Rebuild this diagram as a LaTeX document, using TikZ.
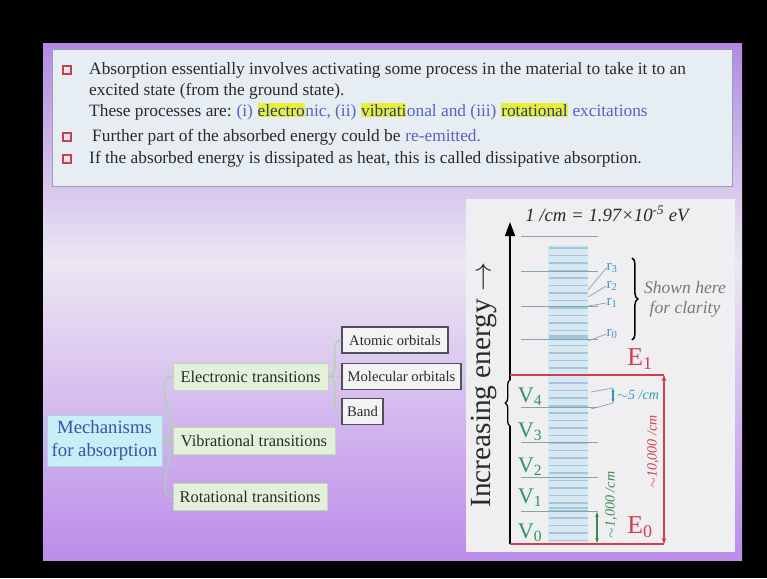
\documentclass[tikz,border=0pt]{standalone}
\usepackage{fontspec}
\setmainfont{Liberation Serif}
\usepackage{xcolor}
\usetikzlibrary{positioning,calc,arrows.meta,decorations.pathreplacing}

\definecolor{slidetop}{HTML}{B08AE2}
\definecolor{slidemid}{HTML}{ECE7F2}
\definecolor{slidebot}{HTML}{BC8CEA}
\definecolor{boxfill}{HTML}{E6EDF3}
\definecolor{boxline}{HTML}{9C9CB4}
\definecolor{bodygray}{HTML}{2A2A2A}
\definecolor{bluetxt}{HTML}{5662C6}
\definecolor{hlyellow}{HTML}{E6F03A}
\definecolor{bulletred}{HTML}{C8404E}
\definecolor{bulletfill}{HTML}{F4E4EA}
\definecolor{rootfill}{HTML}{C8EEF8}
\definecolor{rootline}{HTML}{A6D6EA}
\definecolor{roottext}{HTML}{2F56A8}
\definecolor{lvlfill}{HTML}{E3F1DA}
\definecolor{lvlline}{HTML}{BCD9B4}
\definecolor{leaffill}{HTML}{F3F3F5}
\definecolor{leafline}{HTML}{505058}
\definecolor{linkgreen}{HTML}{A6D8A6}
\definecolor{panelfill}{HTML}{EFEFF2}
\definecolor{bandfill}{HTML}{D8E8F2}
\definecolor{shortline}{HTML}{A2C6DA}
\definecolor{longline}{HTML}{86A4AC}
\definecolor{rblue}{HTML}{3A98CE}
\definecolor{vgreen}{HTML}{2F9462}
\definecolor{ered}{HTML}{D23E4C}
\definecolor{fiveteal}{HTML}{2A9CC4}
\definecolor{kgreen}{HTML}{3A8A52}
\definecolor{cleargray}{HTML}{787878}

\tikzset{
  bulletbox/.style={draw=bulletred, fill=bulletfill, line width=0.9pt, minimum size=0.24cm, inner sep=0pt},
  bodytext/.style={anchor=base west, inner sep=0pt, text=bodygray, font=\fontsize{14.8}{17}\selectfont},
  bluetext/.style={bodytext, text=bluetxt},
  hltext/.style={bodytext, fill=hlyellow, inner ysep=1pt, text=bluetxt!60!black},
  rootbox/.style={draw=rootline, fill=rootfill, text=roottext, align=center, inner sep=2pt,
    minimum width=3.45cm, minimum height=1.53cm, font=\fontsize{16}{19.5}\selectfont},
  levelbox/.style={draw=lvlline, fill=lvlfill, text=bodygray, inner sep=2pt,
    minimum height=0.8cm, font=\fontsize{14}{17}\selectfont},
  leafbox/.style={draw=leafline, fill=leaffill, text=bodygray, line width=1.2pt, inner sep=2pt,
    minimum height=0.78cm, font=\fontsize{12.5}{15}\selectfont},
  link/.style={draw=linkgreen, line width=1pt},
  shortlvl/.style={draw=shortline, line width=0.9pt},
  longlvl/.style={draw=longline, line width=0.6pt},
  elvl/.style={draw=ered, line width=1pt},
  vlabel/.style={text=vgreen, font=\fontsize{19}{21}\selectfont, inner sep=0pt},
  rlabel/.style={text=rblue, font=\fontsize{13}{15}\selectfont, inner sep=0pt},
  elabel/.style={text=ered, font=\fontsize{22}{24}\selectfont, inner sep=0pt},
  smalllabel/.style={font=\itshape\fontsize{12}{14}\selectfont, inner sep=0pt},
}

\begin{document}
\begin{tikzpicture}[x=0.03cm, y=-0.03cm]
\useasboundingbox (0,0) rectangle (767,578);
\fill[black] (0,0) rectangle (767,578);

% slide background
\shade[top color=slidetop, bottom color=slidemid] (43,43) rectangle (742,262);
\shade[top color=slidemid, bottom color=slidebot] (43,262) rectangle (742,560);

% text box
\filldraw[fill=boxfill, draw=boxline, line width=0.8pt] (52,49) rectangle (732,186);
\node[bulletbox] (b1) at (67,70) {};
\node[bodytext] (l1) at (89,74) {Absorption essentially involves activating some process in the material to take it to an};
\node[bodytext] (l2) at (89,95) {excited state (from the ground state).};
\node[bodytext] (l3) at (89,116) {These processes are:};
\node[bluetext] (l3b) at (l3.base east) {\ (i)\ \hbox{}};
\node[hltext] (l3c) at (l3b.base east) {electro};
\node[bluetext] (l3d) at (l3c.base east) {nic, (ii)\ \hbox{}};
\node[hltext] (l3e) at (l3d.base east) {vibrati};
\node[bluetext] (l3f) at (l3e.base east) {onal and (iii)\ \hbox{}};
\node[hltext] (l3g) at (l3f.base east) {rotational};
\node[bluetext] (l3h) at (l3g.base east) {\ excitations};
\node[bulletbox] (b2) at (67,137) {};
\node[bodytext] (l4) at (92,141) {Further part of the absorbed energy could be};
\node[bluetext] (l4b) at (l4.base east) {\ re-emitted.};
\node[bulletbox] (b3) at (67,159) {};
\node[bodytext] (l5) at (89,163) {If the absorbed energy is dissipated as heat, this is called dissipative absorption.};

% hierarchy
\node[rootbox] (mech) at (104.5,440.5) {Mechanisms\\for absorption};
\node[levelbox, minimum width=4.65cm] (elec) at (250.5,376.5) {Electronic transitions};
\node[levelbox, minimum width=4.86cm] (vib) at (254,441) {Vibrational transitions};
\node[levelbox, minimum width=4.62cm] (rot) at (250,496.5) {Rotational transitions};
\node[leafbox, minimum width=3.18cm] (atom) at (395,340) {Atomic orbitals};
\node[leafbox, minimum width=3.57cm] (molec) at (401.5,376.5) {Molecular orbitals};
\node[leafbox, minimum width=1.23cm] (band) at (362.5,411.5) {Band};
\foreach \child in {elec,vib,rot}
  \draw[link] (mech.east) to[out=0,in=180] (\child.west);
\foreach \child in {atom,molec,band}
  \draw[link] (elec.east) to[out=0,in=180] (\child.west);

% energy level panel
\fill[panelfill] (466,199) rectangle (735,552);
\fill[bandfill] (548,245) rectangle (588,544);
\foreach \y in {248,255.5,...,541}
  \draw[shortlvl] (549,\y) -- (588,\y);
\foreach \y in {336,407,508}
  \draw[shortlvl, line width=2.5pt] (549,\y) -- (588,\y);
\foreach \y in {236,271,306,339,407,442,477,511}
  \draw[longlvl] (521,\y) -- (598,\y);

\node[font=\itshape\fontsize{16}{18}\selectfont, text=bodygray] (scale) at (607,214)
  {1 /cm = 1.97×10\textsuperscript{-5} eV};
\node[rotate=90, text=bodygray, font=\fontsize{25}{28}\selectfont] (incr) at (484,385)
  {Increasing energy $\rightarrow$};

% axis with brace
\coordinate (axbot) at (510,544);
\coordinate (brlow) at (510,426);
\coordinate (brhigh) at (510,380);
\coordinate (axtop) at (510,222);
\draw[line width=1.3pt] (axbot) -- (brlow);
\draw[line width=1.1pt, decorate, decoration={brace, amplitude=4pt}] (brlow) -- (brhigh);
\draw[line width=1.3pt, -{Triangle[length=0.42cm, width=0.3cm]}] (brhigh) -- (axtop);

% electronic levels
\coordinate (e1left) at (510,375);
\coordinate (e1end) at (664,375);
\coordinate (e0left) at (510,544);
\coordinate (e0end) at (664,544);
\draw[elvl] (e1left) -- (e1end);
\draw[elvl] (e0left) -- (e0end);
\draw[elvl, {Stealth[length=0.18cm, width=0.14cm]}-{Stealth[length=0.18cm, width=0.14cm]}] (e0end) -- (e1end);
\node[elabel] (E1) at (640,359) {E\textsubscript{1}};
\node[elabel] (E0) at (640,527) {E\textsubscript{0}};
\node[smalllabel, text=ered, rotate=90] (tenk) at (653,452) {$\sim$10,000 /cm};

% vibrational levels
\foreach \i/\y in {0/533,1/498,2/467,3/432,4/397}
  \node[vlabel] (v\i) at (530,\y) {V\textsubscript{\i}};
\coordinate (kbot) at (597,543);
\coordinate (ktop) at (597,512);
\draw[kgreen, line width=0.9pt, {Stealth[length=0.15cm]}-{Stealth[length=0.15cm]}] (kbot) -- (ktop);
\node[smalllabel, text=kgreen, rotate=90] (onek) at (611,505) {$\sim$1,000 /cm};

% rotational spacing
\coordinate (fivetop) at (613,388);
\coordinate (fivebot) at (613,403);
\coordinate (fiveA) at (591,392);
\coordinate (fiveB) at (591,409);
\draw[fiveteal, line width=1pt, {Stealth[length=0.12cm]}-{Stealth[length=0.12cm]}] (fivebot) -- (fivetop);
\draw[longlvl] (fivetop) -- (fiveA);
\draw[longlvl] (fivebot) -- (fiveB);
\node[smalllabel, text=fiveteal, anchor=west] (five) at (617,395) {$\sim$5 /cm};

% rotational levels
\foreach \i/\y/\ey in {0/334/341,1/303/306,2/286/297,3/268/290}
  \node[rlabel] (r\i) at (612,\y) {r\textsubscript{\i}};
\foreach \i/\y/\ey in {0/334/341,1/303/306,2/286/297,3/268/290}
  \coordinate (rl\i) at (588,\ey);
\foreach \i in {0,1,2,3}
  \draw[longlvl] (r\i.west) -- (rl\i);

\coordinate (brtop) at (632,258);
\coordinate (brbot) at (632,340);
\draw[line width=1.3pt, decorate, decoration={brace, amplitude=5pt}] (brtop) -- (brbot);
\node[font=\itshape\fontsize{15}{17}\selectfont, text=cleargray, align=center] (clarity) at (685,299)
  {Shown here\\for clarity};
\end{tikzpicture}
\end{document}
